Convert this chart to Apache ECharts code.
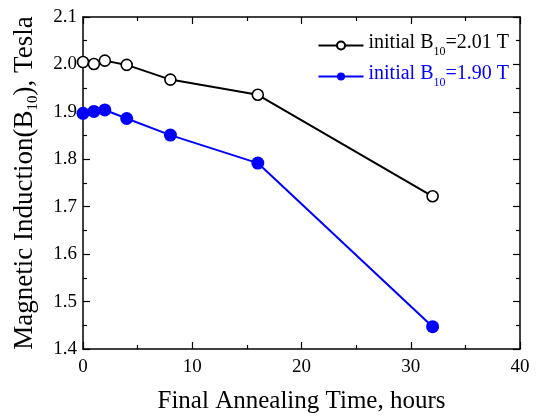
<!DOCTYPE html>
<html>
<head>
<meta charset="UTF-8">
<script type="text/javascript" src="https://cdn.jsdelivr.net/npm/echarts@6/dist/echarts.min.js"></script>
<title>B10 vs annealing time</title>
<style>
	body { margin: 0; background: #fff; }
	#main { width: 536px; height: 419px; }
</style>
</head>
<body>
<div id="main"></div>
<script type="text/javascript">
	// annealing time, hours
	var hours = [0, 1, 2, 4, 8, 16, 32];
	// initial B10 = 2.01 T
	var bHigh = [2.005, 2.001, 2.008, 1.999, 1.968, 1.936, 1.722];
	// initial B10 = 1.90 T
	var bLow = [1.897, 1.901, 1.904, 1.886, 1.851, 1.792, 1.447];
	var seriesNames = ['initial B10=2.01 T', 'initial B10=1.90 T'];
	var xTicks = [0, 10, 20, 30, 40];
	var yTicks = [1.4, 1.5, 1.6, 1.7, 1.8, 1.9, 2.0, 2.1];

	var font = 'Liberation Serif';

	function pairs(xs, ys){
		var out = [];
		for (var i = 0; i < xs.length; i++) out.push([xs[i], ys[i]]);
		return out;
	}

	var tickCommon = {
		axisLine: {show: true, onZero: false, lineStyle: {color: '#000', width: 1.5}},
		axisTick: {show: true, inside: true, length: 7, lineStyle: {color: '#000', width: 1.2}},
		minorTick: {show: true, splitNumber: 2, length: 4, lineStyle: {color: '#000', width: 1.2}},
		splitLine: {show: false}
	};

	function axis(extra){
		return Object.assign({}, JSON.parse(JSON.stringify(tickCommon)), extra);
	}

	var myChart = echarts.init(document.getElementById('main'));

	var option = {
		animation: false,
		backgroundColor: '#fff',
		grid: {left: 83, top: 17, right: 16, bottom: 70},
		legend: {
			orient: 'vertical',
			right: 22,
			top: 28,
			itemWidth: 45,
			itemHeight: 10,
			itemGap: 6,
			data: [
				{name: seriesNames[0], textStyle: {color: '#000'}},
				{name: seriesNames[1], textStyle: {color: '#0000ff'}}
			],
			formatter: function(name){
				var val = name.split('=')[1];
				var k = name === seriesNames[0] ? 'K' : 'B';
				return '{m' + k + '|initial B}{s' + k + '|10}{m' + k + '|=' + val + '}';
			},
			textStyle: {
				fontFamily: font,
				fontSize: 20,
				rich: {
					mK: {fontFamily: font, fontSize: 20, color: '#000', verticalAlign: 'top', lineHeight: 25},
					sK: {fontFamily: font, fontSize: 12, color: '#000', verticalAlign: 'bottom', lineHeight: 25, padding: [8, 0, 0, 0]},
					mB: {fontFamily: font, fontSize: 20, color: '#0000ff', verticalAlign: 'top', lineHeight: 25},
					sB: {fontFamily: font, fontSize: 12, color: '#0000ff', verticalAlign: 'bottom', lineHeight: 25, padding: [8, 0, 0, 0]}
				}
			}
		},
		xAxis: [
			axis({
				type: 'value', position: 'bottom',
				min: 0, max: 40, interval: 10,
				name: 'Final Annealing Time, hours',
				nameLocation: 'middle', nameGap: 40,
				nameTextStyle: {fontFamily: font, fontSize: 25, color: '#000'},
				axisLabel: {
					fontFamily: font, fontSize: 19, color: '#000', margin: 9,
					formatter: function(v){ return xTicks.indexOf(v) >= 0 ? String(v) : ''; }
				}
			}),
			axis({
				type: 'value', position: 'top',
				min: 0, max: 40, interval: 10,
				axisLabel: {show: false}
			})
		],
		yAxis: [
			axis({
				type: 'value', position: 'left',
				min: 1.4, max: 2.1, interval: 0.1,
				name: '{t|Magnetic Induction(B}{s|10}{t|), Tesla}',
				nameLocation: 'middle', nameGap: 42, nameRotate: 90,
				nameTextStyle: {
					fontFamily: font, fontSize: 27, color: '#000',
					rich: {
						t: {fontFamily: font, fontSize: 27, color: '#000', verticalAlign: 'top', lineHeight: 30},
						s: {fontFamily: font, fontSize: 15, color: '#000', verticalAlign: 'bottom', lineHeight: 30, padding: [10, 0, 0, 0]}
					}
				},
				axisLabel: {
					fontFamily: font, fontSize: 19, color: '#000', margin: 6,
					formatter: function(v){
						var r = Math.round(v * 10) / 10;
						return yTicks.indexOf(r) >= 0 ? r.toFixed(1) : '';
					}
				}
			}),
			axis({
				type: 'value', position: 'right',
				min: 1.4, max: 2.1, interval: 0.1,
				axisLabel: {show: false}
			})
		],
		series: [
			{
				name: seriesNames[0],
				type: 'line',
				data: pairs(hours, bHigh),
				symbol: 'circle',
				symbolSize: 11,
				lineStyle: {color: '#000', width: 2},
				itemStyle: {color: '#fff', borderColor: '#000', borderWidth: 1.6},
				z: 3
			},
			{
				name: seriesNames[1],
				type: 'line',
				data: pairs(hours, bLow),
				symbol: 'circle',
				symbolSize: 13,
				lineStyle: {color: '#0000ff', width: 2},
				itemStyle: {color: '#0000ff', borderColor: '#0000ff', borderWidth: 0},
				z: 3
			}
		]
	};

	myChart.setOption(option);
</script>
</body>
</html>
